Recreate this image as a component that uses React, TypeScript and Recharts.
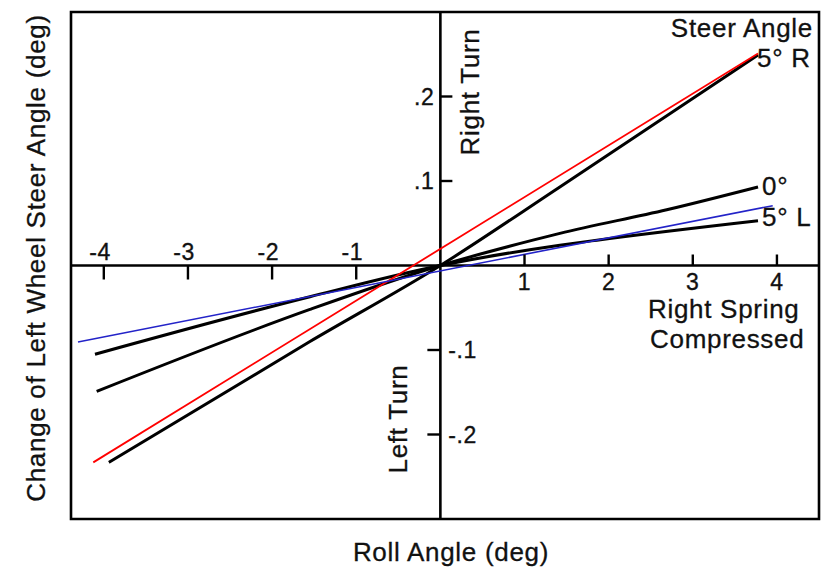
import React from 'react';
import { LineChart, Line, XAxis, YAxis, ReferenceLine, ReferenceArea, ReferenceDot } from 'recharts';

const FONT = '"Liberation Sans", Arial, Helvetica, sans-serif';
const INK = '#111';

// Roll angle (deg) and change of left wheel steer angle (deg) per steer-angle curve
const roll5R = [-3.94, -1.55, 0, 1.42, 3.775];
const steer5R = [-0.233, -0.09, 0, 0.093, 0.249];
const roll0 = [-4.085, -1.55, 0, 1.1, 1.42, 2.69, 3.775];
const steer0 = [-0.149, -0.052, 0, 0.03, 0.038, 0.066, 0.093];
const roll5L = [-4.105, -1.55, 0, 1.42, 1.86, 3.775];
const steer5L = [-0.105, -0.037, 0, 0.024, 0.03, 0.053];
const rollRed = [-4.125, 3.775];
const steerRed = [-0.233, 0.251];
const rollBlue = [-4.307, 3.95];
const steerBlue = [-0.0905, 0.0708];

const xTicks = [-4, -3, -2, -1, 1, 2, 3, 4];
const xTickLabels = ['-4', '-3', '-2', '-1', '1', '2', '3', '4'];
const yTicks = [0.2, 0.1, -0.1, -0.2];
const yTickLabels = ['.2', '.1', '-.1', '-.2'];

const curveLabels = ['5° R', '0°', '5° L'];

const X_DOMAIN: [number, number] = [-4.39, 4.5];
const Y_DOMAIN: [number, number] = [-0.3, 0.3];

const pts = (xs: number[], ys: number[]) => xs.map((x, i) => ({ x, y: ys[i] }));

const TICK_FS = 23;
const BIG_FS = 26;

const TickText = (props: any) => (
  <text
    {...props}
    fontFamily={FONT}
    fontSize={TICK_FS}
    fill={INK}
    stroke={INK}
    strokeWidth={0.35}
    style={{ fontSize: TICK_FS + 'px', fontFamily: FONT, letterSpacing: '0.6px' }}
  />
);
const BigText = (props: any) => (
  <text
    {...props}
    fontFamily={FONT}
    fontSize={BIG_FS}
    fill={INK}
    stroke={INK}
    strokeWidth={0.3}
    style={{ fontSize: BIG_FS + 'px', fontFamily: FONT, letterSpacing: '0.7px' }}
  />
);

export default function App() {
  return (
    <div style={{ position: 'absolute', left: 0, top: 0, width: 829, height: 568, background: '#fff' }}>
      <LineChart width={829} height={568} margin={{ top: 12, right: 10, bottom: 49, left: 71 }}>
        <XAxis type="number" dataKey="x" domain={X_DOMAIN} allowDataOverflow hide />
        <YAxis type="number" dataKey="y" domain={Y_DOMAIN} allowDataOverflow hide />
        <ReferenceArea
          x1={X_DOMAIN[0]}
          x2={X_DOMAIN[1]}
          y1={Y_DOMAIN[0]}
          y2={Y_DOMAIN[1]}
          fill="none"
          fillOpacity={0}
          stroke="#000"
          strokeWidth={2.6}
          ifOverflow="visible"
        />
        <ReferenceLine x={0} stroke="#000" strokeWidth={2.6} />
        <ReferenceLine y={0} stroke="#000" strokeWidth={2.6} />

        {xTicks.map((t, i) => (
          <ReferenceDot
            key={'xt' + t}
            x={t}
            y={0}
            r={1}
            ifOverflow="visible"
            shape={(p: any) => {
              const { cx, cy } = p;
              if (t < 0) {
                return (
                  <g>
                    <line x1={cx} y1={cy} x2={cx} y2={cy + 14} stroke="#000" strokeWidth={2.4} />
                    <TickText x={cx + 7} y={cy - 6} textAnchor="end">
                      {xTickLabels[i]}
                    </TickText>
                  </g>
                );
              }
              return (
                <g>
                  <line x1={cx} y1={cy - 11} x2={cx} y2={cy} stroke="#000" strokeWidth={2.4} />
                  <TickText x={cx} y={cy + 24} textAnchor="middle">
                    {xTickLabels[i]}
                  </TickText>
                </g>
              );
            }}
          />
        ))}

        {yTicks.map((t, i) => (
          <ReferenceDot
            key={'yt' + t}
            x={0}
            y={t}
            r={1}
            ifOverflow="visible"
            shape={(p: any) => {
              const { cx, cy } = p;
              if (t > 0) {
                return (
                  <g>
                    <line x1={cx} y1={cy} x2={cx + 12} y2={cy} stroke="#000" strokeWidth={2.4} />
                    <TickText x={cx - 6} y={cy + 8} textAnchor="end">
                      {yTickLabels[i]}
                    </TickText>
                  </g>
                );
              }
              return (
                <g>
                  <line x1={cx - 13} y1={cy} x2={cx} y2={cy} stroke="#000" strokeWidth={2.4} />
                  <TickText x={cx + 8} y={cy + 8} textAnchor="start">
                    {yTickLabels[i]}
                  </TickText>
                </g>
              );
            }}
          />
        ))}

        <Line data={pts(roll5R, steer5R)} dataKey="y" type="monotone" stroke="#000" strokeWidth={3} dot={false} activeDot={false} isAnimationActive={false} />
        <Line data={pts(roll0, steer0)} dataKey="y" type="monotone" stroke="#000" strokeWidth={3} dot={false} activeDot={false} isAnimationActive={false} />
        <Line data={pts(roll5L, steer5L)} dataKey="y" type="monotone" stroke="#000" strokeWidth={3} dot={false} activeDot={false} isAnimationActive={false} />
        <Line data={pts(rollRed, steerRed)} dataKey="y" type="linear" stroke="#ff0000" strokeWidth={1.8} dot={false} activeDot={false} isAnimationActive={false} />
        <Line data={pts(rollBlue, steerBlue)} dataKey="y" type="linear" stroke="#2323c8" strokeWidth={1.6} dot={false} activeDot={false} isAnimationActive={false} />

        <ReferenceDot
          x={roll5R[roll5R.length - 1]}
          y={steer5R[steer5R.length - 1]}
          r={1}
          ifOverflow="visible"
          shape={(p: any) => (
            <BigText x={p.cx - 1} y={p.cy + 12}>{curveLabels[0]}</BigText>
          )}
        />
        <ReferenceDot
          x={roll0[roll0.length - 1]}
          y={steer0[steer0.length - 1]}
          r={1}
          ifOverflow="visible"
          shape={(p: any) => (
            <BigText x={p.cx + 4} y={p.cy + 8.5}>{curveLabels[1]}</BigText>
          )}
        />
        <ReferenceDot
          x={roll5L[roll5L.length - 1]}
          y={steer5L[steer5L.length - 1]}
          r={1}
          ifOverflow="visible"
          shape={(p: any) => (
            <BigText x={p.cx + 4} y={p.cy + 5.5}>{curveLabels[2]}</BigText>
          )}
        />
      </LineChart>

      <svg width={829} height={568} style={{ position: 'absolute', left: 0, top: 0, pointerEvents: 'none' }}>
        <BigText x={813} y={37} textAnchor="end">Steer Angle</BigText>
        <BigText x={648} y={318}>Right Spring</BigText>
        <BigText x={650} y={348}>Compressed</BigText>
        <BigText x={479} y={92} textAnchor="middle" transform="rotate(-90 479 92)">Right Turn</BigText>
        <BigText x={407} y={419} textAnchor="middle" transform="rotate(-90 407 419)">Left Turn</BigText>
        <BigText x={45} y={258} textAnchor="middle" transform="rotate(-90 45 258)">Change of Left Wheel Steer Angle (deg)</BigText>
        <BigText x={451} y={561} textAnchor="middle">Roll Angle (deg)</BigText>
      </svg>
    </div>
  );
}
